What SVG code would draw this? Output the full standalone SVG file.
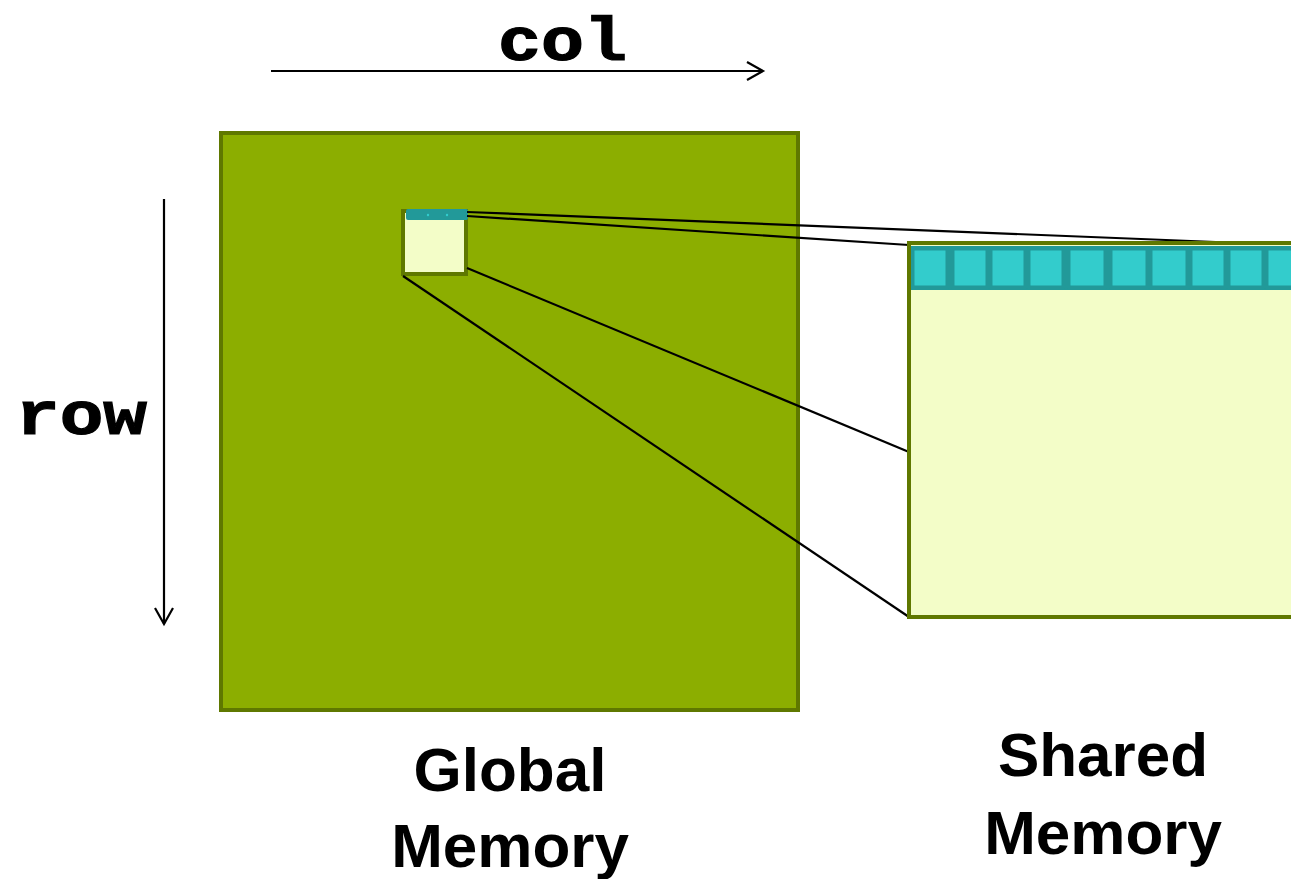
<svg xmlns="http://www.w3.org/2000/svg" width="1291" height="879" viewBox="0 0 1291 879">
<defs>
<style>
.mono{font-family:"Liberation Mono","Courier New",monospace;font-weight:bold;font-size:62px;fill:#000;stroke:#000;stroke-width:1.2}
.lbl{font-family:"Liberation Sans",Arial,sans-serif;font-weight:bold;font-size:62px;fill:#000;text-anchor:middle}
.ln{stroke:#000;stroke-width:2.2;fill:none}
.cell{fill:#33CCCC;stroke:#229999;stroke-width:3}
</style>
<marker id="arr" markerWidth="24" markerHeight="24" refX="19" refY="12" orient="auto" markerUnits="userSpaceOnUse">
<path d="M3,3 L19,12 L3,21" fill="none" stroke="#000" stroke-width="2.2"/>
</marker>
</defs>
<rect width="1291" height="879" fill="#fff"/>
<g id="axes">
<line class="ln" x1="271" y1="71" x2="763" y2="71" marker-end="url(#arr)"/>
<text class="mono" x="498" y="60" textLength="129" lengthAdjust="spacingAndGlyphs">col</text>
<line class="ln" x1="164" y1="199" x2="164" y2="624" marker-end="url(#arr)"/>
<text class="mono" x="16" y="434" textLength="131" lengthAdjust="spacingAndGlyphs">row</text>
</g>
<g id="global-memory">
<rect x="221" y="133" width="577" height="577" fill="#8CAE00" stroke="#5F7800" stroke-width="4"/>
<text class="lbl" x="510" y="791">Global</text>
<text class="lbl" x="510" y="867">Memory</text>
</g>
<g id="tile">
<rect x="403" y="211" width="63" height="63" fill="#F3FDC8" stroke="#5F7800" stroke-width="4"/>
<rect x="406" y="209" width="62" height="11" rx="2" fill="#229999"/>
<circle cx="428" cy="215" r="1.2" fill="#33CCCC"/>
<circle cx="447" cy="215" r="1.2" fill="#33CCCC"/>
</g>
<g id="connectors">
<line class="ln" x1="467" y1="212" x2="1291" y2="245"/>
<line class="ln" x1="467" y1="216" x2="909" y2="245"/>
<line class="ln" x1="467" y1="268" x2="909" y2="452"/>
<line class="ln" x1="403" y1="276" x2="909" y2="617"/>
</g>
<g id="shared-memory">
<rect x="909" y="243" width="400" height="374" fill="#F3FDC8" stroke="#5F7800" stroke-width="4"/>
<rect x="911" y="246" width="390" height="44" fill="#229999"/>
<rect class="cell" x="913" y="249" width="34" height="38"/>
<rect class="cell" x="953" y="249" width="34" height="38"/>
<rect class="cell" x="991" y="249" width="34" height="38"/>
<rect class="cell" x="1029" y="249" width="34" height="38"/>
<rect class="cell" x="1069" y="249" width="36" height="38"/>
<rect class="cell" x="1111" y="249" width="36" height="38"/>
<rect class="cell" x="1151" y="249" width="36" height="38"/>
<rect class="cell" x="1191" y="249" width="34" height="38"/>
<rect class="cell" x="1229" y="249" width="34" height="38"/>
<rect class="cell" x="1267" y="249" width="34" height="38"/>
<text class="lbl" x="1103" y="776">Shared</text>
<text class="lbl" x="1103" y="854">Memory</text>
</g>
</svg>
